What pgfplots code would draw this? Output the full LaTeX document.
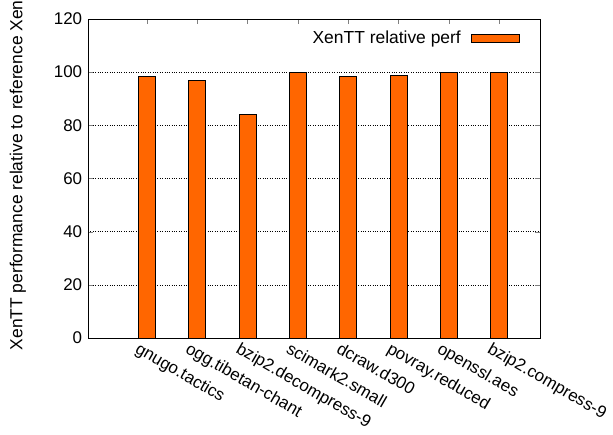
\documentclass[border=0pt]{standalone}
\usepackage{pgfplots}
\pgfplotsset{compat=1.18}
\usepackage{fontspec}
\setmainfont{Liberation Sans}
\definecolor{barorange}{HTML}{FF6600}
\begin{document}
\fontsize{17}{20}\selectfont
\begin{tikzpicture}
\path[use as bounding box] (0,0) rectangle (613bp,435bp);
\begin{axis}[
  at={(88bp,97bp)}, anchor=south west,
  scale only axis, width=452bp, height=319bp,
  xmin=-1.17, xmax=7.81, ymin=0, ymax=120,
  ytick={0,20,...,120},
  xtick={0,...,7},
  xticklabels={gnugo.tactics,ogg.tibetan-chant,bzip2.decompress-9,scimark2.small,dcraw.d300,povray.reduced,openssl.aes,bzip2.compress-9},
  xticklabel style={rotate=-30, anchor=north west, xshift=-5bp, yshift=-5bp, inner sep=1bp, font=\fontsize{17}{20}\selectfont},
  yticklabel style={font=\fontsize{17}{20}\selectfont},
  tick align=inside,
  major tick length=5bp,
  ymajorgrids, grid style={dotted, black, line width=0.6pt},
  axis line style={line width=0.8pt},
  /pgf/number format/assume math mode=true,
  ylabel={XenTT performance relative to reference Xen},
  ylabel style={at={(axis description cs:-0.155,0.51)}, anchor=center, font=\fontsize{17.5}{20}\selectfont},
  legend plot pos=right,
  legend style={draw=none, fill=none, at={(0.962,0.975)}, anchor=north east, font=\fontsize{17.5}{20}\selectfont, /tikz/every odd column/.append style={column sep=8bp}},
  legend image code/.code={\draw[#1] (0bp,-4bp) rectangle (48bp,4bp);},
]
\addplot[ybar, bar width=17bp, fill=barorange, draw=black, line width=0.8pt] coordinates {
  (0,98.4) (1,96.9) (2,84.2) (3,99.9) (4,98.5) (5,98.8) (6,99.9) (7,99.9)
};
\addlegendentry{XenTT relative perf}
\end{axis}
\end{tikzpicture}
\end{document}
